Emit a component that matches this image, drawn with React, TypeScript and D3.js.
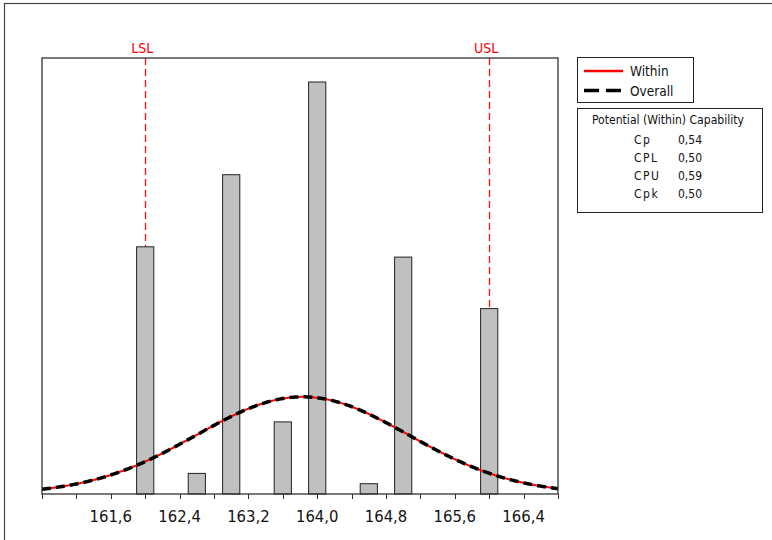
import React from "react";
import * as d3 from "d3";

// histogram bins (centre of each bar) and counts
const binCenters = [162.0, 162.6, 163.0, 163.6, 164.0, 164.6, 165.0, 166.0];
const binCounts = [24, 2, 31, 7, 40, 1, 23, 18];
const binWidth = 0.2;

// x axis ticks
const tickValues = [160.8, 161.2, 161.6, 162.0, 162.4, 162.8, 163.2, 163.6, 164.0, 164.4, 164.8, 165.2, 165.6, 166.0, 166.4, 166.8];
const labelValues = [161.6, 162.4, 163.2, 164.0, 164.8, 165.6, 166.4];
const tickLabels = ["161,6", "162,4", "163,2", "164,0", "164,8", "165,6", "166,4"];

// spec limits and process stats
const specNames = ["LSL", "USL"];
const specValues = [162.0, 166.0];
const processMean = 163.83;
const processSigma = 1.235;

const statNames = ["Cp", "CPL", "CPU", "Cpk"];
const statValues = ["0,54", "0,50", "0,59", "0,50"];

const W = 772;
const H = 540;
const plot = { left: 42, right: 558, top: 58, bottom: 494 };
const font = "'DejaVu Sans Condensed', 'Liberation Sans', sans-serif";

export default function App() {
  const x = d3.scaleLinear().domain([160.8, 166.8]).range([plot.left, plot.right]);
  const y = d3.scaleLinear().domain([0, 42.33]).range([plot.bottom, plot.top]);

  const total = d3.sum(binCounts);
  const pdf = (v: number) =>
    (total * binWidth) / (processSigma * Math.sqrt(2 * Math.PI)) *
    Math.exp(-0.5 * ((v - processMean) / processSigma) ** 2);

  const curvePts = d3.range(160.8, 166.8001, 0.02).map((v) => [v, pdf(v)] as [number, number]);
  const line = d3
    .line<[number, number]>()
    .x((d) => x(d[0]))
    .y((d) => y(d[1]))
    .curve(d3.curveMonotoneX);
  const curvePath = line(curvePts) || "";

  const px = (v: number) => Math.round(x(v)) + 0.5;

  return (
    <div style={{ position: "fixed", left: 0, top: 0 }}>
      <svg width={W} height={H} style={{ display: "block", background: "#fff" }}>
        <rect x={4.5} y={3.5} width={800} height={600} fill="none" stroke="#444" strokeWidth={1.2} />

        <defs>
          <clipPath id="plotClip">
            <rect x={plot.left} y={plot.top} width={plot.right - plot.left} height={plot.bottom - plot.top} />
          </clipPath>
        </defs>

        {/* spec limit lines */}
        {specValues.map((v, i) => (
          <g key={specNames[i]}>
            <line x1={px(v)} x2={px(v)} y1={plot.top} y2={plot.bottom} stroke="#ff1010" strokeWidth={1.3} strokeDasharray="7,4" />
            <text x={x(v) - 3} y={53} textAnchor="middle" fill="#ff0000" fontFamily={font} fontSize={14}>
              {specNames[i]}
            </text>
          </g>
        ))}

        {/* bars */}
        {binCenters.map((c, i) => (
          <rect
            key={c}
            x={x(c - binWidth / 2)}
            y={y(binCounts[i])}
            width={x(c + binWidth / 2) - x(c - binWidth / 2)}
            height={plot.bottom - y(binCounts[i])}
            fill="#c0c0c0"
            stroke="#222"
            strokeWidth={1}
          />
        ))}

        {/* fitted curves: within (red) and overall (black dashed) */}
        <g clipPath="url(#plotClip)">
          <path d={curvePath} fill="none" stroke="#ff0000" strokeWidth={2} />
          <path d={curvePath} fill="none" stroke="#000" strokeWidth={3.5} strokeDasharray="9,5" />
        </g>

        {/* plot frame */}
        <rect x={plot.left} y={plot.top} width={plot.right - plot.left} height={plot.bottom - plot.top} fill="none" stroke="#333" strokeWidth={1.3} />

        {/* x axis ticks */}
        {tickValues.map((t) => (
          <line key={t} x1={px(t)} x2={px(t)} y1={plot.bottom} y2={plot.bottom + 5} stroke="#333" strokeWidth={1} />
        ))}
        {labelValues.map((t, i) => (
          <text key={t} x={x(t)} y={522} textAnchor="middle" fontFamily={font} fontSize={16.5} fill="#111">
            {tickLabels[i]}
          </text>
        ))}

        {/* legend */}
        <rect x={577.5} y={57.5} width={116} height={45} fill="#fff" stroke="#222" strokeWidth={1} />
        <line x1={584} x2={623} y1={71} y2={71} stroke="#ff0000" strokeWidth={2.5} />
        <text x={630} y={76} fontFamily={font} fontSize={13.5} fill="#111">Within</text>
        <line x1={584} x2={621} y1={90.5} y2={90.5} stroke="#000" strokeWidth={3.5} strokeDasharray="15,7" />
        <text x={630} y={95.5} fontFamily={font} fontSize={13.5} fill="#111">Overall</text>

        {/* capability box */}
        <rect x={577.5} y={108.5} width={185} height={104} fill="#fff" stroke="#222" strokeWidth={1} />
        <text x={668} y={124} textAnchor="middle" fontFamily={font} fontSize={11.5} fill="#111" textLength={152} lengthAdjust="spacingAndGlyphs">
          Potential (Within) Capability
        </text>
        {statNames.map((n, i) => (
          <g key={n}>
            <text x={634} y={143.5 + i * 18.3} fontFamily={font} fontSize={12} letterSpacing={1.5} fill="#111">{n}</text>
            <text x={678} y={143.5 + i * 18.3} fontFamily={font} fontSize={12} fill="#111">{statValues[i]}</text>
          </g>
        ))}
      </svg>
    </div>
  );
}
